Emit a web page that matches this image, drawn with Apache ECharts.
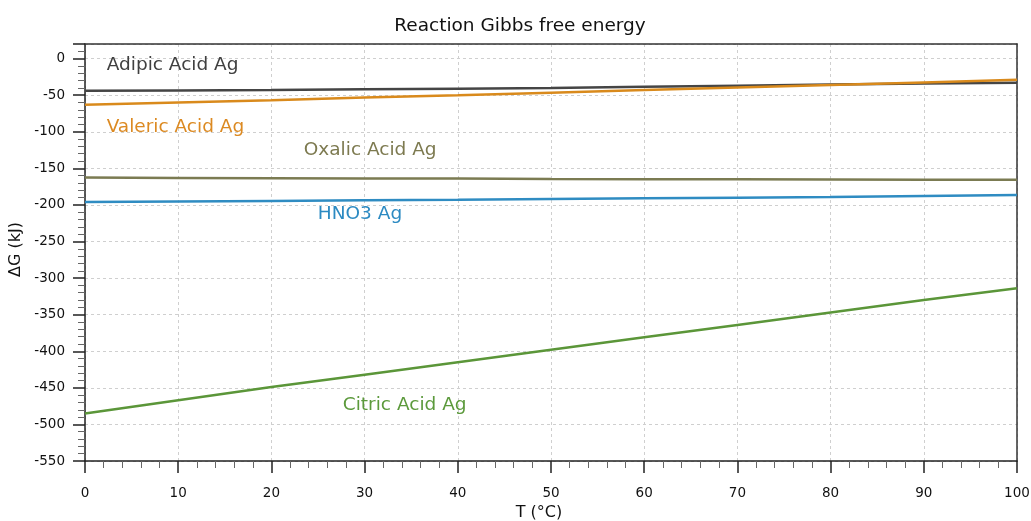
<!DOCTYPE html>
<html>
<head>
<meta charset="utf-8">
<script src="https://cdn.jsdelivr.net/npm/echarts@6/dist/echarts.min.js"></script>
<style>
html,body{margin:0;padding:0;background:#fff;}
#c{width:1031px;height:521px;}
</style>
</head>
<body>
<div id="c"></div>
<script>
const temps = [0, 10, 20, 30, 40, 50, 60, 70, 80, 90, 100];
const adipic = [-44, -43.5, -43, -42, -41, -40, -38.5, -37, -35.5, -34, -33];
const valeric = [-63, -60, -57, -53, -50, -46.5, -43, -39.5, -36, -32.5, -29];
const oxalic = [-162.5, -163, -163.5, -163.8, -164, -164.5, -164.8, -165, -165.3, -165.5, -165.6];
const hno3 = [-196, -195.3, -194.5, -193.7, -193, -192, -191, -190, -189, -187.8, -186.5];
const citric = [-485, -467, -449, -432, -415, -398, -381, -364, -347, -330, -314];

const seriesNames = ['Adipic Acid Ag', 'Valeric Acid Ag', 'Oxalic Acid Ag', 'HNO3 Ag', 'Citric Acid Ag'];
const seriesData = [adipic, valeric, oxalic, hno3, citric];
const seriesColors = ['#454545', '#d98a1c', '#7b7b52', '#2f8cc2', '#5b9639'];
const textColors = ['#404040', '#dc8a22', '#7d7a50', '#2c8ac2', '#5c9a3c'];
// label anchor positions in data space (T, ΔG)
const labelT = [9.4, 9.7, 30.6, 29.5, 34.3];
const labelG = [-9.5, -94, -125.6, -213, -473.6];

const FONT = 'DejaVu Sans';

const chart = echarts.init(document.getElementById('c'), null, {renderer: 'canvas'});

const series = seriesNames.map((name, i) => ({
  name: name,
  type: 'line',
  data: temps.map((t, k) => [t, seriesData[i][k]]),
  showSymbol: false,
  symbol: 'none',
  lineStyle: {color: seriesColors[i], width: 2.5},
  itemStyle: {color: seriesColors[i]},
  z: 3,
  animation: false,
  markPoint: {
    symbol: 'circle',
    symbolSize: 0,
    silent: true,
    animation: false,
    label: {
      show: true,
      position: 'inside',
      formatter: name,
      color: textColors[i],
      fontFamily: FONT,
      fontSize: 18.5
    },
    data: [{coord: [labelT[i], labelG[i]]}]
  }
}));

const borderAxisStyle = {
  axisLine: {show: true, onZero: false, lineStyle: {color: '#333', width: 1.5}},
  axisTick: {show: false},
  axisLabel: {show: false},
  splitLine: {show: false}
};

chart.setOption({
  animation: false,
  backgroundColor: '#ffffff',
  title: {
    text: 'Reaction Gibbs free energy',
    left: 515,
    textAlign: 'center',
    top: 12,
    textStyle: {fontFamily: FONT, fontSize: 18.5, fontWeight: 'normal', color: '#111'}
  },
  grid: {
    left: 85, right: 14, top: 44, bottom: 60,
    containLabel: false,
    outerBoundsMode: 'none'
  },
  xAxis: [{
    type: 'value',
    min: 0, max: 100, interval: 10,
    name: 'T (°C)',
    nameLocation: 'middle',
    nameGap: 42,
    nameTextStyle: {fontFamily: FONT, fontSize: 16, color: '#111', padding: [0, 24, 0, 0]},
    axisLine: {show: true, onZero: false, lineStyle: {color: '#222', width: 1.5}},
    axisTick: {show: true, inside: false, length: 12, lineStyle: {color: '#222', width: 1.5}},
    minorTick: {show: true, splitNumber: 5, length: 7, lineStyle: {color: '#666', width: 1}},
    axisLabel: {fontFamily: FONT, fontSize: 13.5, color: '#111', margin: 25},
    splitLine: {show: true, lineStyle: {color: '#cfcfcf', type: [3, 3], width: 1}}
  }, Object.assign({
    type: 'value', position: 'top', min: 0, max: 100
  }, borderAxisStyle)],
  yAxis: [{
    type: 'value',
    min: -550, max: 20, interval: 50,
    name: 'ΔG (kJ)',
    nameLocation: 'middle',
    nameGap: 52,
    nameRotate: 90,
    nameTextStyle: {fontFamily: FONT, fontSize: 16, color: '#111', padding: [0, 0, 0, 6]},
    axisLine: {show: true, onZero: false, lineStyle: {color: '#222', width: 1.5}},
    axisTick: {show: true, inside: false, length: 12, lineStyle: {color: '#222', width: 1.5}},
    minorTick: {show: true, splitNumber: 5, length: 7, lineStyle: {color: '#666', width: 1}},
    axisLabel: {fontFamily: FONT, fontSize: 13.5, color: '#111', margin: 20, showMaxLabel: false,
      formatter: v => (v % 50 === 0 ? String(v) : '')},
    splitLine: {show: true, lineStyle: {color: '#cfcfcf', type: [3, 3], width: 1}}
  }, Object.assign({
    type: 'value', position: 'right', min: -550, max: 20
  }, borderAxisStyle)],
  series: series
});
</script>
</body>
</html>
